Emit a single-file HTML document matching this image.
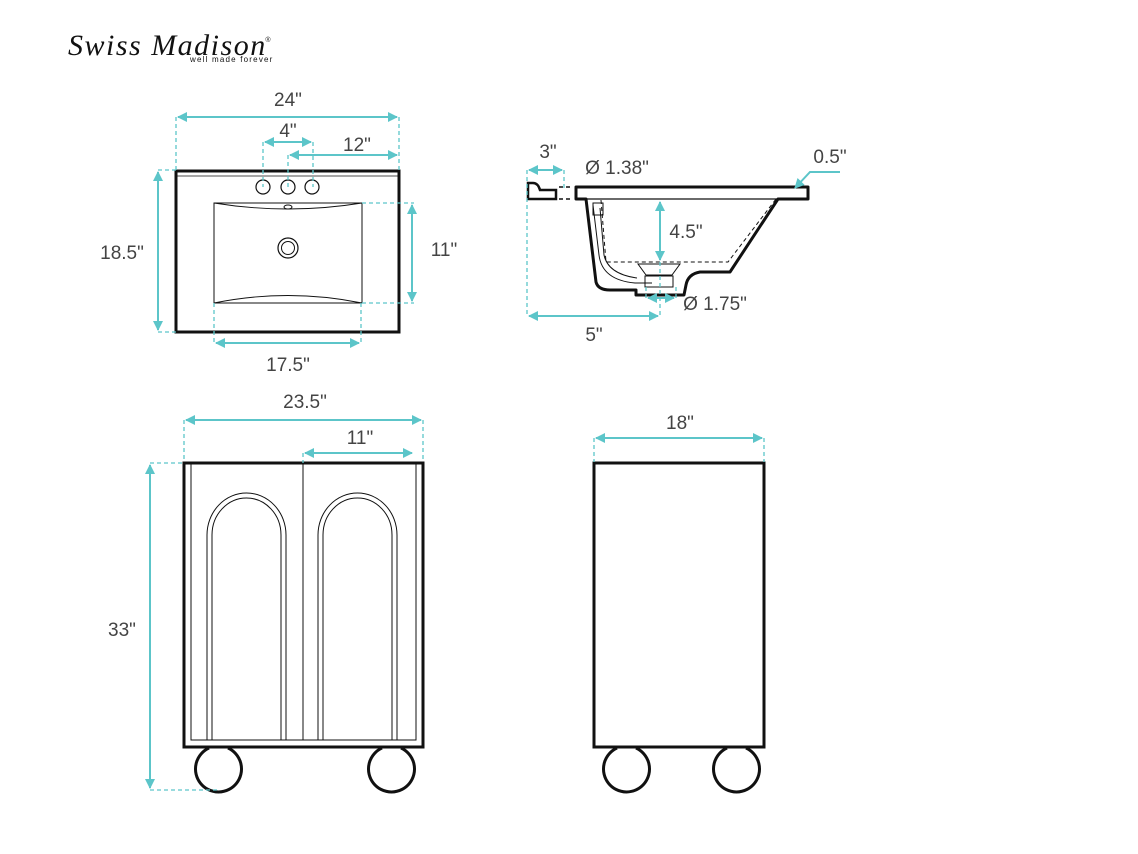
<!DOCTYPE html>
<html><head><meta charset="utf-8"><style>
html,body{margin:0;padding:0;background:#fff;width:1138px;height:854px;overflow:hidden}
svg{display:block}
text{font-family:"Liberation Sans",sans-serif;font-size:19px;fill:#444;text-anchor:middle}
.t{stroke:#5cc5c9;stroke-width:2;fill:none}
.d{stroke:#5cc5c9;stroke-width:1.3;fill:none;stroke-dasharray:4 3}
.k{stroke:#111;fill:none}
</style></head><body>
<svg width="1138" height="854" viewBox="0 0 1138 854" xmlns="http://www.w3.org/2000/svg">
<defs>
<marker id="a" viewBox="0 0 10 10" refX="9" refY="5" markerWidth="5" markerHeight="5" orient="auto-start-reverse"><path d="M0 0L10 5L0 10z" fill="#5cc5c9"/></marker>
</defs>
<!-- logo -->
<text x="68" y="55" style="font-family:'Liberation Serif',serif;font-style:italic;font-size:30px;letter-spacing:1.5px;text-anchor:start;fill:#111">Swiss Madison</text>
<text x="268" y="42" style="font-size:7px;fill:#111">®</text>
<text x="190" y="62" style="font-size:8px;letter-spacing:1.2px;text-anchor:start;fill:#111">well made forever</text>

<!-- TOP VIEW -->
<rect x="176" y="171" width="223" height="161" class="k" stroke-width="3"/>
<line x1="177" y1="176" x2="398" y2="176" class="k" stroke-width="0.8"/>
<circle cx="263" cy="187" r="7" class="k" stroke-width="1.2"/>
<circle cx="288" cy="187" r="7" class="k" stroke-width="1.2"/>
<circle cx="312" cy="187" r="7" class="k" stroke-width="1.2"/>
<path d="M214 203 L362 203 L362 303 L214 303 Z" class="k" stroke-width="1"/>
<path d="M214 203 Q288 215 362 203" class="k" stroke-width="0.9"/>
<path d="M214 303 Q288 288 362 303" class="k" stroke-width="0.9"/>
<ellipse cx="288" cy="207" rx="4" ry="2" class="k" stroke-width="1"/>
<circle cx="288" cy="248" r="10" class="k" stroke-width="1.2"/>
<circle cx="288" cy="248" r="6.5" class="k" stroke-width="1"/>
<path d="M176 117V170M399 117V170M263 142V187M313 142V187M288 155V187M362 203H414M362 303H414M214 303V345M361 303V345M158 170H176M158 332H176" class="d"/>
<line x1="178" y1="117" x2="397" y2="117" class="t" marker-start="url(#a)" marker-end="url(#a)"/>
<line x1="265" y1="142" x2="311" y2="142" class="t" marker-start="url(#a)" marker-end="url(#a)"/>
<line x1="290" y1="155" x2="397" y2="155" class="t" marker-start="url(#a)" marker-end="url(#a)"/>
<line x1="158" y1="172" x2="158" y2="330" class="t" marker-start="url(#a)" marker-end="url(#a)"/>
<line x1="412" y1="205" x2="412" y2="301" class="t" marker-start="url(#a)" marker-end="url(#a)"/>
<line x1="216" y1="343" x2="359" y2="343" class="t" marker-start="url(#a)" marker-end="url(#a)"/>
<text x="288" y="106">24"</text>
<text x="288" y="137">4"</text>
<text x="357" y="151">12"</text>
<text x="122" y="259">18.5"</text>
<text x="444" y="256">11"</text>
<text x="288" y="371">17.5"</text>

<!-- SIDE SECTION -->
<path d="M528 183 L528 199 L556 199 L556 190 L540 190 Q538 183 533 183 Z" class="k" stroke-width="2.5"/>
<path d="M559 187H572M559 199H572" stroke="#111" stroke-width="1.5" stroke-dasharray="4 3"/>
<path d="M576 187 L808 187 L808 199 L778 199 L730 272 L700 272 Q688 274 686 285 L684 295 L636 295 L636 290 L610 290 Q598 290 596 282 L586 199 L576 199 Z" class="k" stroke-width="3" stroke-linejoin="round"/>
<line x1="586" y1="199" x2="778" y2="199" class="k" stroke-width="1.2"/>
<path d="M601 200 L606 262 L728 262 L776 199" class="k" stroke-width="1" stroke-dasharray="4 3"/>
<path d="M593 205 L599 255 Q602 280 635 283 L652 283" class="k" stroke-width="1"/>
<path d="M600 208 L604 255 Q608 274 637 278" class="k" stroke-width="1"/>
<rect x="593" y="203" width="10" height="12" class="k" stroke-width="1"/>
<path d="M638 264 L680 264 L672 275 L646 275 Z" class="k" stroke-width="1"/>
<rect x="645" y="276" width="28" height="11" class="k" stroke-width="1"/>
<path d="M527 170V316M564 170V190M660 262V316M646 287V300M676 287V300" class="d"/>
<line x1="529" y1="170" x2="562" y2="170" class="t" marker-start="url(#a)" marker-end="url(#a)"/>
<line x1="660" y1="202" x2="660" y2="260" class="t" marker-start="url(#a)" marker-end="url(#a)"/>
<line x1="529" y1="316" x2="658" y2="316" class="t" marker-start="url(#a)" marker-end="url(#a)"/>
<line x1="648" y1="298" x2="674" y2="298" class="t" marker-start="url(#a)" marker-end="url(#a)"/>
<polyline points="840,172 810,172 795,188" class="t" stroke-width="1.3" marker-end="url(#a)"/>
<text x="548" y="158">3"</text>
<text x="617" y="174">Ø 1.38"</text>
<text x="830" y="163">0.5"</text>
<text x="686" y="238">4.5"</text>
<text x="715" y="310">Ø 1.75"</text>
<text x="594" y="341">5"</text>

<!-- FRONT CABINET -->
<rect x="184" y="463" width="239" height="284" class="k" stroke-width="3"/>
<path d="M191 464V740H416V464M303 464V740" class="k" stroke-width="1"/>
<path d="M207 740V535A39.5 42 0 0 1 286 535V740M212 740V535A34.5 37 0 0 1 281 535V740" class="k" stroke-width="1"/>
<path d="M318 740V535A39.5 42 0 0 1 397 535V740M323 740V535A34.5 37 0 0 1 392 535V740" class="k" stroke-width="1"/>
<path d="M209 748 A23 23 0 1 0 228 748" class="k" stroke-width="3"/>
<path d="M382 748 A23 23 0 1 0 401 748" class="k" stroke-width="3"/>
<path d="M184 420V462M423 420V462M303 453V463M150 463H184M150 790H218" class="d"/>
<line x1="186" y1="420" x2="421" y2="420" class="t" marker-start="url(#a)" marker-end="url(#a)"/>
<line x1="305" y1="453" x2="412" y2="453" class="t" marker-start="url(#a)" marker-end="url(#a)"/>
<line x1="150" y1="465" x2="150" y2="788" class="t" marker-start="url(#a)" marker-end="url(#a)"/>
<text x="305" y="408">23.5"</text>
<text x="360" y="444">11"</text>
<text x="122" y="636">33"</text>

<!-- SIDE CABINET -->
<rect x="594" y="463" width="170" height="284" class="k" stroke-width="3"/>
<path d="M617 748 A23 23 0 1 0 636 748" class="k" stroke-width="3"/>
<path d="M727 748 A23 23 0 1 0 746 748" class="k" stroke-width="3"/>
<path d="M594 438V462M764 438V462" class="d"/>
<line x1="596" y1="438" x2="762" y2="438" class="t" marker-start="url(#a)" marker-end="url(#a)"/>
<text x="680" y="429">18"</text>
</svg>
</body></html>
